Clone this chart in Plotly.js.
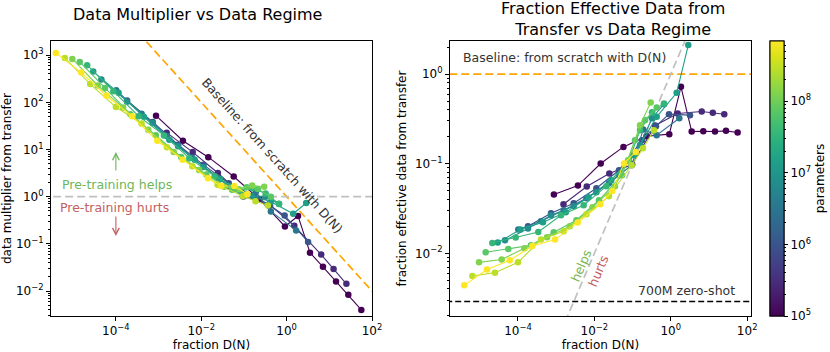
<!DOCTYPE html>
<html>
<head>
<meta charset="utf-8">
<script src="https://cdn.plot.ly/plotly-3.0.1.min.js"></script>
<style>
html, body { margin: 0; padding: 0; background: #fff; }
#chart { width: 830px; height: 352px; }
</style>
</head>
<body>
<div id="chart"></div>
<script>
// model sizes, log10(parameters), smallest to largest
const logParams = [5.0, 5.45, 6.0, 6.5, 6.85, 7.15, 7.55, 7.85, 8.1, 8.45, 8.84];

// per model: log10 fraction D(N) and log10 fraction effective data from transfer
const s1Frac = [-3.06, -2.43, -1.835, -1.24, -0.636, -0.039, 0.267, 0.547, 0.851, 1.157, 1.445, 1.75];
const s1Eff  = [-1.344, -1.244, -0.998, -0.812, -0.693, -0.670, -0.142, -0.640, -0.637, -0.640, -0.633, -0.651];
const s2Frac = [-2.81, -2.20, -1.61, -1.01, -0.41, 0.18, 0.81, 1.10, 1.40];
const s2Eff  = [-1.453, -1.255, -1.109, -1.009, -0.573, -0.439, -0.417, -0.432, -0.447];
const s3Frac = [-3.738, -3.136, -2.542, -1.948, -1.356, -0.754, -0.387, -0.047, 0.503];
const s3Eff  = [-1.698, -1.553, -1.441, -1.274, -1.073, -0.737, -0.581, -0.447, -0.458];
const s4Frac = [-3.992, -3.398, -2.804, -2.209, -1.618, -1.024, -0.720, -0.369, 0.223];
const s4Eff  = [-1.735, -1.642, -1.520, -1.385, -1.218, -1.017, -0.618, -0.682, -0.492];
const s5Frac = [-4.340, -3.738, -3.136, -2.542, -1.948, -1.356, -0.806, -0.492, -0.178];
const s5Eff  = [-1.855, -1.724, -1.575, -1.475, -1.318, -1.128, -0.793, -0.492, -0.335];
const s6Frac = [-4.531, -3.937, -3.346, -2.749, -2.154, -1.560, -0.963, -0.369, 0.154, 0.458];
const s6Eff  = [-1.880, -1.735, -1.654, -1.542, -1.374, -1.184, -0.905, -0.477, -0.209, 0.324];
const s7Frac = [-4.673, -4.060, -3.469, -2.874, -2.280, -1.686, -1.094, -0.806, -0.492, -0.178];
const s7Eff  = [-1.885, -1.825, -1.762, -1.575, -1.464, -1.251, -0.961, -0.626, -0.425, -0.327];
const s8Frac = [-4.846, -4.254, -3.660, -3.065, -2.471, -1.880, -1.277, -0.937, -0.675, -0.369];
const s8Eff  = [-1.989, -1.952, -1.911, -1.765, -1.631, -1.408, -1.128, -0.737, -0.514, -0.372];
const s9Frac = [-5.021, -4.427, -3.832, -3.241, -2.644, -2.050, -1.461, -1.120, -0.806, -0.526];
const s9Eff  = [-2.101, -2.070, -1.944, -1.821, -1.698, -1.486, -1.251, -0.961, -0.570, -0.316];
const s10Frac = [-5.196, -4.602, -4.0, -3.398, -2.804, -2.209, -1.618, -1.024, -0.728, -0.440];
const s10Eff  = [-2.254, -2.216, -2.101, -1.847, -1.754, -1.564, -1.363, -1.017, -0.827, -0.626];
const s11Frac = [-5.406, -4.812, -4.217, -3.623, -3.031, -2.437, -1.843, -1.531, -1.225, -0.919];
const s11Eff  = [-2.358, -2.182, -2.078, -1.918, -1.847, -1.657, -1.453, -1.304, -0.998, -0.868];

// reference lines
const scratchFrac = [1e-8, 1e4];     // baseline: from scratch with D(N), multiplier = 1/fraction
const scratchMult = [1e8, 1e-4];
const evenLine = [1, 1];             // multiplier 1 / effective fraction 1
const evenFrac = [1e-8, 1e4];
const boundary = [1e-4, 10];         // helps / hurts boundary, effective = fraction
const zeroShot = 0.0029;             // 700M zero-shot

const series = [
	[s1Frac, s1Eff], [s2Frac, s2Eff], [s3Frac, s3Eff], [s4Frac, s4Eff],
	[s5Frac, s5Eff], [s6Frac, s6Eff], [s7Frac, s7Eff], [s8Frac, s8Eff],
	[s9Frac, s9Eff], [s10Frac, s10Eff], [s11Frac, s11Eff],
];

const CMIN = 5, CMAX = 8.84;
const VIRIDIS = [
	[0, '#440154'], [0.0627, '#48186a'], [0.1255, '#472d7b'], [0.1882, '#424086'],
	[0.2510, '#3b528b'], [0.3137, '#33638d'], [0.3765, '#2c728e'], [0.4392, '#26828e'],
	[0.5020, '#21918c'], [0.5647, '#1fa088'], [0.6275, '#28ae80'], [0.6902, '#3fbc73'],
	[0.7529, '#5ec962'], [0.8157, '#84d44b'], [0.8784, '#addc30'], [0.9412, '#d8e219'],
	[1, '#fde725'],
];

function viridis( c ){
	const t = Math.max(0, Math.min(1, (c - CMIN) / (CMAX - CMIN)));
	for ( let i = 1; i < VIRIDIS.length; i++ ){
		if ( t <= VIRIDIS[i][0] ){
			const [t0, h0] = VIRIDIS[i - 1], [t1, h1] = VIRIDIS[i];
			const f = (t - t0) / (t1 - t0);
			const a = [1, 3, 5].map(k => parseInt(h0.substr(k, 2), 16));
			const b = [1, 3, 5].map(k => parseInt(h1.substr(k, 2), 16));
			return `rgb(${a.map((v, j) => Math.round(v + (b[j] - v) * f)).join(',')})`;
		}
	}
	return VIRIDIS[VIRIDIS.length - 1][1];
}

// minor log ticks 2..9 for each decade
function minorTicks( lo, hi ){
	const out = [];
	for ( let d = lo; d < hi; d++ ) for ( let k = 2; k < 10; k++ ) out.push(k * Math.pow(10, d));
	return out;
}

const sup = n => `10<sup>${n < 0 ? '\u2212' + (-n) : n}</sup>`;
const FONT = 'DejaVu Sans, Liberation Sans, sans-serif';

// colorbar: one bar with labelled decades, a second one on top for the minor ticks
const cbBase = {
	x: 770 / 830, xanchor: 'left',
	y: 1 - 41 / 352, yanchor: 'top',
	len: 275 / 352, lenmode: 'fraction',
	thickness: 14, thicknessmode: 'pixels',
	xpad: 0, ypad: 0,
	outlinewidth: 1, outlinecolor: '#000',
	tickmode: 'array',
	ticks: 'outside', tickwidth: 1, tickcolor: '#000',
};
const cbMajor = Object.assign({}, cbBase, {
	tickvals: [5, 6, 7, 8],
	ticktext: [5, 6, 7, 8].map(sup),
	ticklen: 4,
	tickfont: { size: 12, color: '#000' },
	title: { text: 'parameters', side: 'right', font: { size: 12, color: '#000' } },
});
const cbMinor = Object.assign({}, cbBase, {
	tickvals: minorTicks(5, 9).map(Math.log10).filter(v => v < CMAX),
	ticklen: 2,
	showticklabels: false,
});

const data = [];

series.forEach(( [lf, le], i ) => {
	const c = logParams[i];
	const frac = lf.map(v => Math.pow(10, v));
	const eff = le.map(v => Math.pow(10, v));
	// left panel: data multiplier = effective fraction / fraction
	const mult = eff.map((e, j) => e / frac[j]);
	const marker = {
		size: 6.5,
		color: frac.map(() => c),
		colorscale: VIRIDIS,
		cmin: CMIN,
		cmax: CMAX,
		line: { width: 0 },
	};
	data.push({
		x: frac, y: mult, xaxis: 'x', yaxis: 'y',
		type: 'scatter', mode: 'lines+markers',
		line: { color: viridis(c), width: 1.1 },
		marker, showlegend: false,
	});
	let scale = {};
	if ( i === 0 ) scale = { showscale: true, colorbar: cbMajor };
	if ( i === 1 ) scale = { showscale: true, colorbar: cbMinor };
	data.push({
		x: frac, y: eff, xaxis: 'x2', yaxis: 'y2',
		type: 'scatter', mode: 'lines+markers',
		line: { color: viridis(c), width: 1.1 },
		marker: Object.assign({}, marker, scale),
		showlegend: false,
	});
});

// reference lines, drawn under the data
const refs = [
	{ x: scratchFrac, y: scratchMult, xaxis: 'x', yaxis: 'y', line: { color: '#ffa500', width: 1.7, dash: '8px,4px' } },
	{ x: evenFrac, y: evenLine, xaxis: 'x', yaxis: 'y', line: { color: '#c0c0c0', width: 1.7, dash: '8px,4px' } },
	{ x: evenFrac, y: evenLine, xaxis: 'x2', yaxis: 'y2', line: { color: '#ffa500', width: 1.7, dash: '8px,4px' } },
	{ x: boundary, y: boundary, xaxis: 'x2', yaxis: 'y2', line: { color: '#c0c0c0', width: 1.7, dash: '8px,4px' } },
	{ x: evenFrac, y: [zeroShot, zeroShot], xaxis: 'x2', yaxis: 'y2', line: { color: '#000', width: 1.5, dash: '6px,3px' } },
].map(t => Object.assign({ type: 'scatter', mode: 'lines', hoverinfo: 'skip', showlegend: false }, t));

const axisBase = {
	type: 'log',
	showgrid: false,
	zeroline: false,
	showline: true,
	mirror: true,
	linecolor: '#000',
	linewidth: 1,
	ticks: 'outside',
	ticklen: 4,
	tickcolor: '#000',
	tickfont: { size: 12, color: '#000' },
	tickmode: 'array',
};

const xTicks = { tickvals: [1e-4, 1e-2, 1, 100], ticktext: [-4, -2, 0, 2].map(sup) };
const yDom = [1 - 316 / 352, 1 - 41 / 352];

const layout = {
	width: 830,
	height: 352,
	margin: { l: 0, r: 0, t: 0, b: 0 },
	paper_bgcolor: '#fff',
	plot_bgcolor: '#fff',
	font: { family: FONT, color: '#000', size: 12 },
	showlegend: false,
	xaxis: Object.assign({}, axisBase, xTicks, {
		domain: [51 / 830, 372 / 830],
		range: [-5.52, 2.0],
		anchor: 'y',
		title: { text: 'fraction D(N)', font: { size: 12 }, standoff: 3 },
	}),
	yaxis: Object.assign({}, axisBase, {
		domain: yDom,
		range: [-2.53, 3.30],
		anchor: 'x',
		tickvals: [1e-2, 1e-1, 1, 10, 100, 1000],
		ticktext: [-2, -1, 0, 1, 2, 3].map(sup),
		minor: { tickmode: 'array', tickvals: minorTicks(-3, 3), ticks: 'outside', ticklen: 2, tickcolor: '#000' },
		title: { text: 'data multiplier from transfer', font: { size: 12 }, standoff: 5 },
	}),
	xaxis2: Object.assign({}, axisBase, xTicks, {
		domain: [450 / 830, 751 / 830],
		range: [-5.78, 2.1],
		anchor: 'y2',
		title: { text: 'fraction D(N)', font: { size: 12 }, standoff: 3 },
	}),
	yaxis2: Object.assign({}, axisBase, {
		domain: yDom,
		range: [-2.70, 0.37],
		anchor: 'x2',
		tickvals: [1e-2, 1e-1, 1],
		ticktext: [-2, -1, 0].map(sup),
		minor: { tickmode: 'array', tickvals: minorTicks(-3, 1), ticks: 'outside', ticklen: 2, tickcolor: '#000' },
		title: { text: 'fraction effective data from transfer', font: { size: 12 }, standoff: 5 },
	}),
	annotations: [
		{ xref: 'paper', yref: 'paper', x: 197 / 830, y: 1 - 15 / 352, text: 'Data Multiplier vs Data Regime',
			showarrow: false, font: { size: 16 }, xanchor: 'center', yanchor: 'middle' },
		{ xref: 'paper', yref: 'paper', x: 613 / 830, y: 1 - 19 / 352, text: 'Fraction Effective Data from<br>Transfer vs Data Regime',
			showarrow: false, font: { size: 16 }, xanchor: 'center', yanchor: 'middle' },
		// left panel notes (log axis coords)
		{ xref: 'x', yref: 'y', x: -0.33, y: 0.88, text: 'Baseline: from scratch with D(N)', textangle: 48,
			showarrow: false, font: { size: 12.5, color: '#333' } },
		{ xref: 'x', yref: 'y', x: -3.98, y: 0.267, text: 'Pre-training helps', showarrow: false, font: { size: 12.5, color: '#6db65a' } },
		{ xref: 'x', yref: 'y', x: -4.03, y: -0.24, text: 'Pre-training hurts', showarrow: false, font: { size: 12.5, color: '#c26060' } },
		{ xref: 'x', yref: 'y', x: -4.0, y: 0.945, ax: 0, ay: 20, text: '', showarrow: true, arrowhead: 5, arrowsize: 1.2,
			arrowwidth: 1.1, arrowcolor: '#6db65a', standoff: 0 },
		{ xref: 'x', yref: 'y', x: -4.0, y: -0.835, ax: 0, ay: -21, text: '', showarrow: true, arrowhead: 5, arrowsize: 1.2,
			arrowwidth: 1.1, arrowcolor: '#c26060', standoff: 0 },
		// right panel notes
		{ xref: 'x2', yref: 'y2', x: -5.49, y: 0.187, text: 'Baseline: from scratch with D(N)', xanchor: 'left',
			showarrow: false, font: { size: 12.5, color: '#333' } },
		{ xref: 'x2', yref: 'y2', x: 1.73, y: -2.413, text: '700M zero-shot', xanchor: 'right',
			showarrow: false, font: { size: 12.5, color: '#333' } },
		{ xref: 'x2', yref: 'y2', x: -2.35, y: -2.134, text: 'helps', textangle: -67,
			showarrow: false, font: { size: 12.5, color: '#77b64f' } },
		{ xref: 'x2', yref: 'y2', x: -1.91, y: -2.20, text: 'hurts', textangle: -67,
			showarrow: false, font: { size: 12.5, color: '#c25a5a' } },
	],
};

Plotly.newPlot('chart', refs.concat(data), layout, { displayModeBar: false, staticPlot: true });
</script>
</body>
</html>
